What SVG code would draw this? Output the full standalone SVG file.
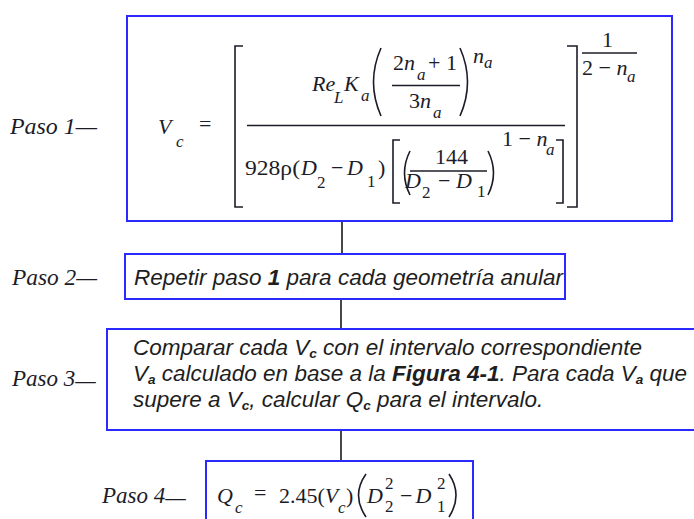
<svg xmlns="http://www.w3.org/2000/svg" width="694" height="519" viewBox="0 0 694 519">
<style>
.box{fill:#fff;stroke:#2a2aff;stroke-width:2}
.con{stroke:#1a1a1a;stroke-width:1.6;fill:none}
.lab{font-family:"Liberation Serif",serif;font-style:italic;font-size:23px;fill:#1c1c28}
.m{font-family:"Liberation Serif",serif;font-size:22px;fill:#1c1c28}
.i{font-style:italic}
.ms{font-family:"Liberation Serif",serif;font-size:17px;fill:#1c1c28}
.delim{stroke:#1c1c28;stroke-width:1.6;fill:none}
.t{font-family:"Liberation Sans",Arial,sans-serif;font-style:italic;font-size:22.5px;fill:#1e1e1e}
.sb{font-size:13.5px;font-weight:bold}
</style>

<g id="connectors">
<line class="con" x1="342" y1="221" x2="342" y2="254"/>
<line class="con" x1="341" y1="299" x2="341" y2="329"/>
<line class="con" x1="341" y1="430" x2="341" y2="461"/>
</g>

<g id="labels">
<text class="lab" x="10" y="134" textLength="87" lengthAdjust="spacingAndGlyphs">Paso 1—</text>
<text class="lab" x="12" y="285" textLength="85" lengthAdjust="spacingAndGlyphs">Paso 2—</text>
<text class="lab" x="12" y="386">Paso 3<tspan dy="2">—</tspan></text>
<text class="lab" x="102" y="503">Paso 4<tspan dy="2">—</tspan></text>
</g>

<g id="step1">
<rect class="box" x="127" y="16" width="545" height="205"/>
<text class="m i" x="158" y="134" font-size="27">V</text>
<text class="ms i" x="176" y="147" font-size="18">c</text>
<text class="m" x="199" y="131" font-size="23">=</text>
<path class="delim" d="M243,46 H235 V207 H243"/>
<line class="delim" x1="247" y1="125.5" x2="565" y2="125.5"/>
<text class="m i" x="312" y="91" font-size="23">Re</text>
<text class="ms i" x="334" y="103">L</text>
<text class="m i" x="344" y="91" font-size="23">K</text>
<text class="ms i" x="361" y="101">a</text>
<path class="delim" d="M381,48 Q366,82 381,116"/>
<text class="m" x="393" y="70" font-size="23">2<tspan class="i">n</tspan></text>
<text class="ms i" x="417" y="80">a</text>
<text class="m" x="428" y="70" font-size="23">+ 1</text>
<line class="delim" x1="392" y1="85.5" x2="460" y2="85.5"/>
<text class="m" x="409" y="108" font-size="23">3<tspan class="i">n</tspan></text>
<text class="ms i" x="433" y="118">a</text>
<path class="delim" d="M460,48 Q475,82 460,116"/>
<text class="m i" x="473" y="63" font-size="21">n</text>
<text class="ms i" x="484" y="68" font-size="16">a</text>
<text class="m" x="245" y="175" font-size="21" textLength="55" lengthAdjust="spacingAndGlyphs">928ρ(</text>
<text class="m i" x="301" y="175">D</text>
<text class="ms" x="317" y="188">2</text>
<text class="m" x="331" y="175">−</text>
<text class="m i" x="347" y="175">D</text>
<text class="ms" x="367" y="187">1</text>
<text class="m" x="378" y="175">)</text>
<path class="delim" d="M400,140 H393 V203 H400"/>
<path class="delim" d="M410,151 Q399,173 410,195"/>
<text class="m" x="435" y="164">144</text>
<line class="delim" x1="410" y1="171" x2="487" y2="171"/>
<text class="m i" x="405" y="188">D</text>
<text class="ms" x="422" y="198">2</text>
<text class="m" x="438" y="188">−</text>
<text class="m i" x="456" y="188">D</text>
<text class="ms" x="477" y="197">1</text>
<path class="delim" d="M488,151 Q499,173 488,195"/>
<text class="m" x="502" y="146" font-size="21">1 − <tspan class="i">n</tspan></text>
<text class="ms i" x="546" y="155" font-size="16">a</text>
<path class="delim" d="M556,140 H563 V203 H556"/>
<path class="delim" d="M567,46 H577 V207 H567"/>
<text class="m" x="602" y="47" font-size="21">1</text>
<line class="delim" x1="582" y1="53" x2="637" y2="53"/>
<text class="m" x="582" y="75" font-size="21">2 − <tspan class="i">n</tspan></text>
<text class="ms i" x="627" y="82" font-size="16">a</text>
</g>

<g id="step2">
<rect class="box" x="125" y="254" width="440" height="45"/>
<text class="t" x="134" y="285" font-size="22.3">Repetir paso <tspan font-weight="bold">1</tspan> para cada geometría anular</text>
</g>

<g id="step3">
<rect class="box" x="107" y="329" width="600" height="101"/>
<text class="t" x="133" y="355">Comparar cada V<tspan class="sb" dy="3">c</tspan><tspan dy="-3"> con el intervalo correspondiente</tspan></text>
<text class="t" x="133" y="381">V<tspan class="sb" dy="3">a</tspan><tspan dy="-3"> calculado en base a la </tspan><tspan font-weight="bold">Figura 4-1</tspan>. Para cada V<tspan class="sb" dy="3">a</tspan><tspan dy="-3"> que</tspan></text>
<text class="t" x="133" y="407">supere a V<tspan class="sb" dy="3">c</tspan><tspan dy="-3">, calcular Q</tspan><tspan class="sb" dy="3">c</tspan><tspan dy="-3"> para el intervalo.</tspan></text>
</g>

<g id="step4">
<rect class="box" x="206" y="461" width="267" height="70"/>
<text class="m i" x="217" y="503" font-size="25">Q</text>
<text class="ms i" x="235" y="513" font-size="18">c</text>
<text class="m" x="254" y="500" font-size="23">=</text>
<text class="m" x="279" y="503" font-size="23">2.45(<tspan class="i">V</tspan></text>
<text class="ms i" x="338" y="513" font-size="18">c</text>
<text class="m" x="346" y="503" font-size="23">)</text>
<path class="delim" d="M366,474 Q351,495 366,517"/>
<text class="m i" x="367" y="503" font-size="23">D</text>
<text class="ms" x="385" y="489">2</text>
<text class="ms" x="385" y="512">2</text>
<text class="m" x="400" y="503" font-size="23">−<tspan class="i" dx="3">D</tspan></text>
<text class="ms" x="437" y="489">2</text>
<text class="ms" x="437" y="512">1</text>
<path class="delim" d="M449,474 Q463,495 449,517"/>
</g>
</svg>
